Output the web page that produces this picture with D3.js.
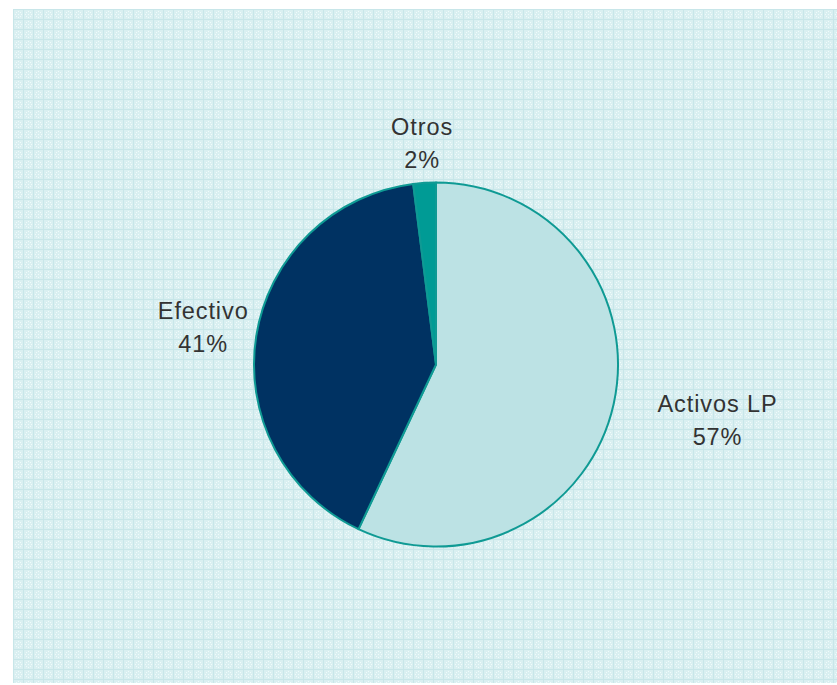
<!DOCTYPE html>
<html>
<head>
<meta charset="utf-8">
<script src="https://cdn.jsdelivr.net/npm/d3@7"></script>
<style>
  html, body { margin: 0; padding: 0; background: #ffffff; }
  svg { display: block; }
</style>
</head>
<body>
<svg id="chart" width="837" height="685"></svg>
<script>
// Composition of assets
const categories = ["Activos LP", "Efectivo", "Otros"];
const values = [57, 41, 2];
const percentLabels = ["57%", "41%", "2%"];

const sliceColors = ["#bce2e4", "#003262", "#009b95"];
// label placement: radius factor along the slice's mid-angle, plus small nudges
const labelRadiusFactor = [1.585, 1.295, 1.218];
const labelNudgeY = [-7, 0, 0];

const width = 837, height = 685;
const svg = d3.select("#chart");

// Plot area background: light cyan grid texture
const defs = svg.append("defs");
const pat = defs.append("pattern")
  .attr("id", "grid")
  .attr("patternUnits", "userSpaceOnUse")
  .attr("x", 13).attr("y", 9)
  .attr("width", 10).attr("height", 10);
pat.append("rect").attr("width", 10).attr("height", 10).attr("fill", "#d9eff1");
pat.append("rect").attr("x", 0).attr("y", 0).attr("width", 10).attr("height", 1).attr("fill", "#c8e6e9");
pat.append("rect").attr("x", 0).attr("y", 0).attr("width", 1).attr("height", 10).attr("fill", "#c8e6e9");
[[3, 3], [7, 3], [5, 5], [3, 7], [7, 7], [5, 2], [2, 5], [8, 5], [5, 8]].forEach(([x, y]) => {
  pat.append("rect").attr("x", x).attr("y", y).attr("width", 1).attr("height", 1).attr("fill", "#f0fafb");
});

svg.append("rect")
  .attr("x", 13).attr("y", 9)
  .attr("width", width - 13).attr("height", height - 11)
  .attr("fill", "url(#grid)");

// Pie
const cx = 436, cy = 364.5, radius = 182;
const data = categories.map((c, i) => ({
  name: c, value: values[i], label: percentLabels[i], color: sliceColors[i],
  lf: labelRadiusFactor[i], ny: labelNudgeY[i]
}));

const pie = d3.pie().sort(null).value(d => d.value);
const arcs = pie(data);
const arc = d3.arc().innerRadius(0).outerRadius(radius);

const g = svg.append("g").attr("transform", `translate(${cx},${cy})`);

g.selectAll("path.slice")
  .data(arcs)
  .enter().append("path")
  .attr("class", "slice")
  .attr("d", arc)
  .attr("fill", d => d.data.color)
  .attr("stroke", "#0f9a94")
  .attr("stroke-width", 2)
  .attr("stroke-linejoin", "round");

// Labels: category name and percentage on two lines
const labels = g.selectAll("text.lbl")
  .data(arcs)
  .enter().append("text")
  .attr("class", "lbl")
  .attr("transform", d => {
    const la = d3.arc().innerRadius(radius * d.data.lf).outerRadius(radius * d.data.lf);
    const [x, y] = la.centroid(d);
    return `translate(${x},${y + d.data.ny})`;
  })
  .attr("text-anchor", "middle")
  .attr("font-family", "'Liberation Sans', Arial, sans-serif")
  .attr("font-size", 23.5)
  .attr("letter-spacing", 0.9)
  .attr("fill", "#333333");

labels.append("tspan").attr("x", 0).attr("y", -16.5).attr("dy", "0.35em").text(d => d.data.name);
labels.append("tspan").attr("x", 0).attr("y", 16.5).attr("dy", "0.35em").text(d => d.data.label);
</script>
</body>
</html>
